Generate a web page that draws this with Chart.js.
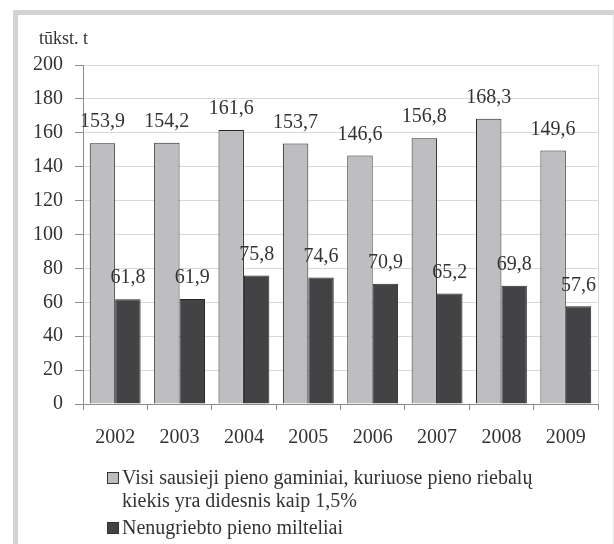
<!DOCTYPE html>
<html>
<head>
<meta charset="utf-8">
<script src="https://cdn.jsdelivr.net/npm/chart.js@4/dist/chart.umd.min.js"></script>
<style>
  html, body { margin: 0; padding: 0; background: #fff; }
  body { width: 614px; height: 544px; position: relative; overflow: hidden; font-family: "Liberation Serif", "Times New Roman", serif; }
  #frame { position: absolute; left: 13px; top: 10px; width: 595px; height: 540px;
           border-left: 5px solid #d3d3d3; border-top: 5px solid #d3d3d3; border-right: 2px solid #e4e4e4; }
  #wrap { position: absolute; left: 0; top: 0; width: 614px; height: 544px; }
  #legend { position: absolute; left: 107px; top: 466px; font-size: 20px; color: #333; }
  .item { position: relative; padding-left: 15px; line-height: 23px; }
  .item + .item { margin-top: 4px; }
  .box { position: absolute; left: 0; top: 6px; width: 10px; height: 10px; border: 1px solid #333; }
</style>
</head>
<body>
<div id="frame"></div>
<div id="wrap"><canvas id="chart" width="614" height="544"></canvas></div>
<div id="legend"></div>
<script>
const years = ["2002", "2003", "2004", "2005", "2006", "2007", "2008", "2009"];
const dryProducts = [153.9, 154.2, 161.6, 153.7, 146.6, 156.8, 168.3, 149.6];
const skimmedPowder = [61.8, 61.9, 75.8, 74.6, 70.9, 65.2, 69.8, 57.6];
const seriesNames = [
    ["Visi sausieji pieno gaminiai,  kuriuose pieno riebalų", "kiekis yra didesnis kaip 1,5%"],
    ["Nenugriebto pieno milteliai"]
];
const yTicks = [0, 20, 40, 60, 80, 100, 120, 140, 160, 180, 200];
const unitLabel = "tūkst. t";

const FONT = "Liberation Serif";

// value labels above each bar, with a decimal comma
const valueLabels = {
    id: "valueLabels",
    afterDatasetsDraw(chart) {
        const ctx = chart.ctx;
        ctx.save();
        ctx.font = "20px '" + FONT + "'";
        ctx.fillStyle = "#333";
        ctx.textAlign = "center";
        ctx.textBaseline = "middle";
        chart.data.datasets.forEach((ds, i) => {
            chart.getDatasetMeta(i).data.forEach((bar, j) => {
                ctx.fillText(ds.data[j].toFixed(1).replace(".", ","), bar.x, bar.y - 21);
            });
        });
        ctx.restore();
    }
};

// light frame on the right side of the plot + unit label above the y axis
const plotFrame = {
    id: "plotFrame",
    beforeDatasetsDraw(chart) {
        const a = chart.chartArea;
        const ctx = chart.ctx;
        ctx.save();
        ctx.strokeStyle = "#d9d9d9";
        ctx.lineWidth = 1;
        ctx.beginPath();
        ctx.moveTo(a.right + 0.5, a.top);
        ctx.lineTo(a.right + 0.5, a.bottom);
        ctx.stroke();

        ctx.font = "18px '" + FONT + "'";
        ctx.fillStyle = "#333";
        ctx.textAlign = "left";
        ctx.textBaseline = "middle";
        ctx.fillText(unitLabel, a.left - 44, a.top - 26);
        ctx.restore();
    }
};

const chart = new Chart(document.getElementById("chart"), {
    type: "bar",
    data: {
        labels: years,
        datasets: [{
            label: seriesNames[0].join(" "),
            data: dryProducts,
            backgroundColor: "#bebec0",
            borderColor: "#262626",
            borderWidth: 1
        }, {
            label: seriesNames[1].join(" "),
            data: skimmedPowder,
            backgroundColor: "#434345",
            borderColor: "#262626",
            borderWidth: 1
        }]
    },
    options: {
        responsive: false,
        animation: false,
        layout: { padding: { left: 28, right: 16, top: 65, bottom: 0 } },
        categoryPercentage: 0.79,
        barPercentage: 1,
        plugins: {
            legend: { display: false },
            tooltip: { enabled: false }
        },
        scales: {
            x: {
                grid: { offset: true, drawOnChartArea: false, tickLength: 6, tickColor: "#8c8c8c" },
                border: { color: "#8c8c8c" },
                ticks: { color: "#333", padding: 16, font: { family: FONT, size: 20 } },
                afterFit(s) { s.height = 140; }
            },
            y: {
                min: 0,
                max: 200,
                afterBuildTicks(s) { s.ticks = yTicks.map(v => ({ value: v })); },
                grid: { color: "#d9d9d9", tickLength: 8, tickColor: "#8c8c8c" },
                border: { color: "#8c8c8c" },
                ticks: { color: "#333", padding: 12, font: { family: FONT, size: 20 } },
                afterFit(s) { s.width = 55; }
            }
        }
    },
    plugins: [valueLabels, plotFrame]
});

// legend below the chart, built from the dataset colours
const legend = document.getElementById("legend");
chart.data.datasets.forEach((ds, i) => {
    const item = document.createElement("div");
    item.className = "item";
    const box = document.createElement("span");
    box.className = "box";
    box.style.background = ds.backgroundColor;
    item.appendChild(box);
    seriesNames[i].forEach((line, k) => {
        if (k > 0) item.appendChild(document.createElement("br"));
        item.appendChild(document.createTextNode(line));
    });
    legend.appendChild(item);
});
</script>
</body>
</html>
